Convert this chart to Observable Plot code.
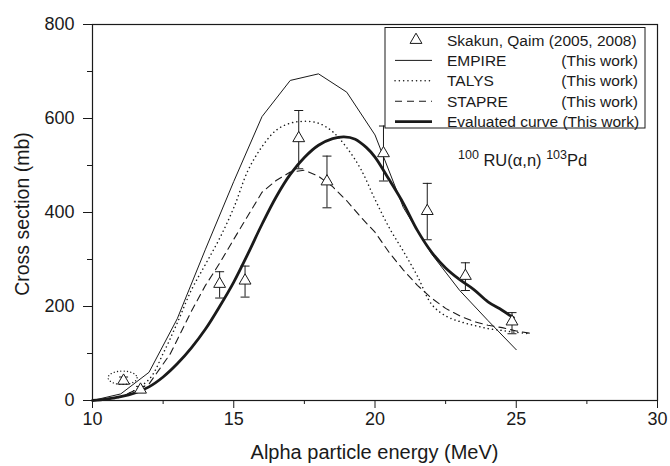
<!DOCTYPE html>
<html><head><meta charset="utf-8">
<script src="https://cdn.jsdelivr.net/npm/d3@7"></script>
<script src="https://cdn.jsdelivr.net/npm/@observablehq/plot@0.6"></script>
<style>
body{margin:0;background:#fff;}
#chart{width:670px;height:466px;}
svg{font-family:"Liberation Sans", Arial, sans-serif;}
</style></head><body><div id="chart"></div>
<script>
// ---- data ----
const xTicks = [10, 15, 20, 25, 30];
const xMinorTicks = [12.5, 17.5, 22.5, 27.5];
const yTicks = [0, 200, 400, 600, 800];
const yMinorTicks = [100, 300, 500, 700];

const empireE = [10, 11, 12, 13, 14, 15, 16, 17, 18, 19, 20, 21, 22, 23, 24, 25];
const empireS = [0, 14, 60, 174, 322, 466, 604, 681, 695, 656, 565, 411, 312, 234, 170, 108];

const talysE = [10, 11, 12, 12.5, 13, 13.5, 14, 14.5, 15, 15.5, 16, 16.5, 17, 17.5, 18, 18.5, 19, 19.5, 20, 20.5, 21, 21.5, 22, 22.5, 23, 23.5, 24, 24.5, 25, 25.5];
const talysS = [0, 8, 45, 100, 165, 235, 290, 345, 410, 489, 540, 575, 590, 594, 590, 572, 538, 492, 428, 368, 318, 265, 205, 180, 168, 160, 153, 149, 145, 142];

const stapreE = [10, 11, 12, 12.75, 13.5, 14, 14.5, 15, 15.5, 16, 16.5, 17, 17.5, 18, 18.5, 19, 19.5, 20, 20.5, 21, 21.5, 22, 22.5, 23, 23.5, 24, 24.5, 25, 25.5];
const stapreS = [0, 8, 35, 99, 190, 245, 292, 343, 393, 443, 468, 486, 490, 477, 455, 425, 390, 358, 315, 278, 245, 218, 196, 180, 168, 160, 155, 148, 143];

const evalE = [10, 10.5, 11, 11.5, 12, 12.5, 13, 13.5, 14, 14.5, 15, 15.5, 16, 16.5, 17, 17.5, 18, 18.5, 18.9, 19.3, 19.7, 20, 20.5, 21, 21.5, 22, 22.5, 23, 23.5, 24, 24.5, 24.9];
const evalS = [0, 3, 8, 16, 29, 50, 78, 112, 152, 200, 252, 312, 375, 433, 481, 517, 543, 557, 561, 556, 538, 518, 470, 420, 362, 316, 282, 257, 236, 210, 192, 176];

const expE  = [11.1, 11.7, 14.5, 15.4, 17.3, 18.3, 20.3, 21.85, 23.2, 24.85];
const expS  = [42, 23, 248, 255, 558, 466, 526, 403, 265, 168];
const expLo = [35, 17, 218, 220, 493, 410, 467, 342, 234, 142];
const expHi = [50, 30, 274, 286, 617, 520, 584, 462, 293, 187];
const circledIndex = [0];

const legendNames = ["Skakun, Qaim (2005, 2008)", "EMPIRE", "TALYS", "STAPRE", "Evaluated curve (This work)"];
const legendSuffix = ["", "(This work)", "(This work)", "(This work)", ""];
const xLabel = "Alpha particle energy (MeV)";
const yLabel = "Cross section (mb)";

// ---- tables ----
const toRows = (E, S) => E.map((e, i) => ({E: e, S: S[i]}));
const empire = toRows(empireE, empireS);
const talys = toRows(talysE, talysS);
const stapre = toRows(stapreE, stapreS);
const evaluated = toRows(evalE, evalS);
const exp = expE.map((e, i) => ({E: e, S: expS[i], lo: expLo[i], hi: expHi[i]}));
const circled = circledIndex.map(i => exp[i]);

// custom symbols
const capSym = {draw(ctx, size) { const r = Math.sqrt(size / Math.PI); ctx.moveTo(-r, 0); ctx.lineTo(r, 0); }};
const ellipseSym = {draw(ctx, size) {
  const rx = Math.sqrt(size / Math.PI), ry = rx * 0.46, cx = -1, cy = -3, k = 0.5523;
  ctx.moveTo(cx + rx, cy);
  ctx.bezierCurveTo(cx + rx, cy + ry * k, cx + rx * k, cy + ry, cx, cy + ry);
  ctx.bezierCurveTo(cx - rx * k, cy + ry, cx - rx, cy + ry * k, cx - rx, cy);
  ctx.bezierCurveTo(cx - rx, cy - ry * k, cx - rx * k, cy - ry, cx, cy - ry);
  ctx.bezierCurveTo(cx + rx * k, cy - ry, cx + rx, cy - ry * k, cx + rx, cy);
  ctx.closePath();
}};

const ink = "#1a1a1a";
const styles = {
  empire: {stroke: ink, strokeWidth: 1},
  talys: {stroke: ink, strokeWidth: 1.5, strokeDasharray: "0.1 4.2", strokeLinecap: "round"},
  stapre: {stroke: ink, strokeWidth: 1.1, strokeDasharray: "7 5"},
  evaluated: {stroke: ink, strokeWidth: 2.8}
};

const chart = Plot.plot({
  width: 670, height: 466,
  marginLeft: 92, marginRight: 13, marginTop: 24, marginBottom: 66,
  style: {fontFamily: '"Liberation Sans", Arial, sans-serif', fontSize: "18px", color: ink, background: "#fff", overflow: "visible"},
  x: {domain: [10, 30]},
  y: {domain: [0, 800]},
  marks: [
    Plot.frame({stroke: ink, strokeWidth: 1.2}),
    Plot.axisX({ticks: xTicks, tickSize: 8, tickPadding: 4, label: null, fontSize: 18}),
    Plot.axisX({ticks: xMinorTicks, tickSize: 4, tickFormat: () => "", label: null}),
    Plot.axisY({ticks: yTicks, tickSize: 9, tickPadding: 9, label: null, fontSize: 18}),
    Plot.axisY({ticks: yMinorTicks, tickSize: 5, tickFormat: () => "", label: null}),
    Plot.line(empire, {x: "E", y: "S", curve: "linear", ...styles.empire}),
    Plot.line(talys, {x: "E", y: "S", curve: "catmull-rom", ...styles.talys}),
    Plot.line(stapre, {x: "E", y: "S", curve: "linear", ...styles.stapre}),
    Plot.line(evaluated, {x: "E", y: "S", curve: "catmull-rom", ...styles.evaluated}),
    Plot.ruleX(exp, {x: "E", y1: "lo", y2: "hi", stroke: ink, strokeWidth: 1}),
    Plot.dot(exp, {x: "E", y: "lo", symbol: capSym, r: 4.5, stroke: ink, strokeWidth: 1}),
    Plot.dot(exp, {x: "E", y: "hi", symbol: capSym, r: 4.5, stroke: ink, strokeWidth: 1}),
    Plot.dot(exp, {x: "E", y: "S", symbol: "triangle", r: 4.4, fill: "#fff", stroke: ink, strokeWidth: 1}),
    Plot.dot(circled, {x: "E", y: "S", symbol: ellipseSym, r: 14.5, fill: "none", stroke: ink, strokeWidth: 1.3, strokeDasharray: "0.1 3.2", strokeLinecap: "round"})
  ]
});
document.getElementById("chart").appendChild(chart);

// ---- axis titles, legend, annotation ----
const svg = d3.select(chart);
svg.append("text").attr("x", 374.5).attr("y", 459).attr("text-anchor", "middle")
  .attr("font-size", 20).attr("fill", ink).text(xLabel);
svg.append("text").attr("transform", "translate(29,214) rotate(-90)").attr("text-anchor", "middle")
  .attr("font-size", 19.5).attr("fill", ink).text(yLabel);

const lg = svg.append("g").attr("font-size", 15.5).attr("fill", ink).attr("text-anchor", "start");
lg.append("rect").attr("x", 385).attr("y", 27.5).attr("width", 260).attr("height", 100.5)
  .attr("fill", "#fff").attr("stroke", ink).attr("stroke-width", 1);
const rowY = i => 40 + i * 20.4;
const legStyles = [null, styles.empire, styles.talys, styles.stapre, styles.evaluated];
legendNames.forEach((name, i) => {
  const y = rowY(i);
  if (i === 0) {
    lg.append("path").attr("d", d3.symbol(d3.symbolTriangle, Math.PI * 4.4 * 4.4)())
      .attr("transform", `translate(416,${y})`).attr("fill", "#fff").attr("stroke", ink);
  } else {
    const s = legStyles[i];
    lg.append("line").attr("x1", 395).attr("x2", 432).attr("y1", y).attr("y2", y)
      .attr("stroke", s.stroke).attr("stroke-width", s.strokeWidth)
      .attr("stroke-dasharray", s.strokeDasharray || null).attr("stroke-linecap", s.strokeLinecap || null);
  }
  lg.append("text").attr("x", 447).attr("y", y).attr("dy", "0.36em").attr("text-anchor", "start").text(name);
  if (legendSuffix[i]) lg.append("text").attr("x", 638).attr("y", y).attr("dy", "0.36em").attr("text-anchor", "end").text(legendSuffix[i]);
});

const ann = svg.append("text").attr("x", 458).attr("y", 166).attr("fill", ink).attr("font-size", 16.5).attr("text-anchor", "start");
ann.append("tspan").attr("font-size", 12.5).attr("dy", -7).text("100");
ann.append("tspan").attr("dy", 7).text(" RU(α,n) ");
ann.append("tspan").attr("font-size", 12.5).attr("dy", -7).text("103");
ann.append("tspan").attr("dy", 7).text("Pd");
</script></body></html>
